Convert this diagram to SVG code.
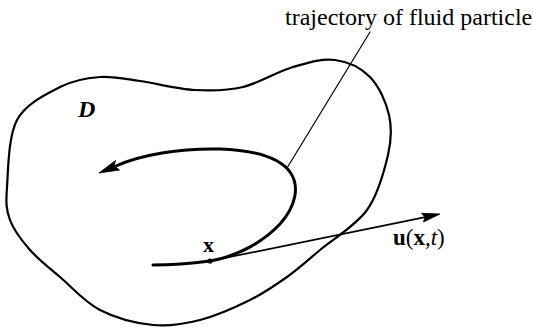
<svg xmlns="http://www.w3.org/2000/svg" width="533" height="328" viewBox="0 0 533 328">
<style>
.line{fill:none;stroke:#000;stroke-linecap:round;stroke-linejoin:round}
.txt{font-family:"Liberation Serif","Times New Roman",serif;fill:#000}
.head{fill:#000;stroke:#000;stroke-width:0.8;stroke-linejoin:round}
</style>
<rect width="533" height="328" fill="#fff"/>
<g id="domain">
<path class="line" stroke-width="2.2" d="M7,187 C8.2,170.3 8.2,136.7 17,120 C25.8,103.3 46.2,94.2 60,87 C73.8,79.8 86.7,78 100,77 C113.3,76 124.5,78.8 140,81 C155.5,83.2 178,89 195,90 C212,91 227,90.8 243,87 C259,83.2 277.2,71.5 293,67 C308.8,62.5 322.2,58.3 335,60 C347.8,61.7 361,67.8 370,77 C379,86.2 386,102 389,115 C392,128 391.7,139.2 388,155 C384.3,170.8 378.3,194.2 367,210 C355.7,225.8 333.3,238.8 320,250 C306.7,261.2 298.7,268.7 287,277 C275.3,285.3 264.5,292.8 250,300 C235.5,307.2 216.2,315.8 200,320 C183.8,324.2 169.7,326.7 153,325 C136.3,323.3 115.5,318 100,310 C84.5,302 71.7,287 60,277 C48.3,267 38.3,259.5 30,250 C21.7,240.5 13.8,230.5 10,220 C6.2,209.5 5.8,203.7 7,187 Z"/>
<text class="txt" x="78" y="117" font-size="24" font-weight="bold" font-style="italic">D</text>
</g>
<g id="trajectory">
<path class="line" stroke-width="3" d="M153,265 C175,265 195,263 210,261 C240,256 265,240 280,224 C296,206 300,186 290,172 C278,156 250,150 220,149 C180,148 140,155 116,166"/>
<polygon class="head" points="99,173 119.5,170 114,166 115.5,160.5"/>
</g>
<g id="particle">
<circle cx="210" cy="261" r="2.6" fill="#000"/>
<text class="txt" x="203" y="252" font-size="22" font-weight="bold">x</text>
</g>
<g id="label-trajectory">
<text class="txt" x="285" y="25" font-size="24">trajectory of fluid particle</text>
</g>
<g id="label-velocity">
<text class="txt" x="393" y="245" font-size="23"><tspan font-weight="bold">u</tspan>(<tspan font-weight="bold">x</tspan>,<tspan font-style="italic">t</tspan>)</text>
</g>
<g id="connectors">
<line class="line" stroke-width="1.2" x1="370" y1="32" x2="287" y2="168"/>
<line class="line" stroke-width="1.7" x1="210" y1="261" x2="424" y2="217.3"/>
<polygon class="head" points="440,214 421.5,213.3 425,217 423.5,222"/>
</g>
</svg>
